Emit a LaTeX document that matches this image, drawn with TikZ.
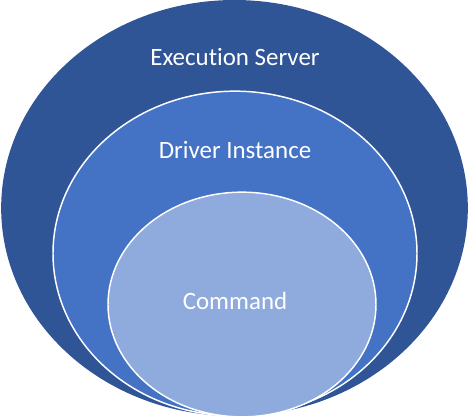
\documentclass[tikz,border=0pt]{standalone}
\usepackage{fontspec}
\setmainfont[Ligatures=NoCommon]{Carlito}
\usetikzlibrary{shapes.geometric}
\definecolor{server}{HTML}{2F5597}
\definecolor{driver}{HTML}{4472C4}
\definecolor{command}{HTML}{8FAADC}

\begin{document}
\begin{tikzpicture}[x=0.75pt, y=-0.75pt,
  layer/.style = {ellipse, inner sep=0pt, draw=white, line width=1.1pt},
  caption/.style = {text=white, font=\fontsize{18.7}{22}\selectfont}]
\useasboundingbox (0,0) rectangle (469,418);
\node[layer, draw=none, fill=server, minimum width=350pt, minimum height=312pt] (server) at (234.5,208) {};
\node[layer, fill=driver, minimum width=273pt, minimum height=243.5pt] (driver) at (235,253.5) {};
\node[layer, fill=command, minimum width=201pt, minimum height=168.5pt] (command) at (242,304.5) {};
\node[caption] (serverlbl) at (235,57) {Execution Server};
\node[caption] (driverlbl) at (235,150) {Driver Instance};
\node[caption] (commandlbl) at (235,301) {Command};
\end{tikzpicture}
\end{document}
